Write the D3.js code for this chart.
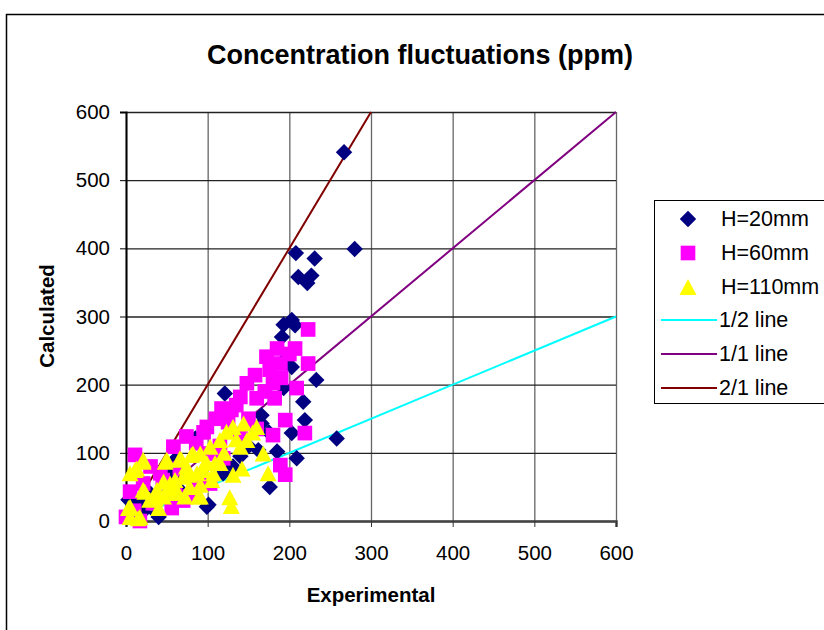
<!DOCTYPE html>
<html><head><meta charset="utf-8">
<script src="https://cdn.jsdelivr.net/npm/d3@7/dist/d3.min.js"></script>
<style>
html,body{margin:0;padding:0;background:#fff;}
svg{display:block;font-family:"Liberation Sans",Arial,sans-serif;}
</style></head>
<body>
<svg id="chart" width="824" height="630"></svg>
<script>
// ---- data ----
const title = "Concentration fluctuations (ppm)";
const xTitle = "Experimental";
const yTitle = "Calculated";
const xTicks = [0,100,200,300,400,500,600];
const yTicks = [0,100,200,300,400,500,600];
const seriesNames = ["H=20mm","H=60mm","H=110mm"];
const lineNames = ["1/2 line","1/1 line","2/1 line"];
const lineSlopes = [0.5,1,2];

const h20 = [[267,541],[280,399],[208,393],[231,385],[211,358],[227,360],[222,349],[193,288],[203,295],[207,287],[191,270],[203,226],[193,195],[233,207],[217,175],[219,148],[203,129],[209,92],[176,50],[258,121],[121,187],[166,155],[185,102],[99,21],[38,11],[21,14],[131,80],[119,70],[54,70],[101,24],[40,6],[17,28],[3,31],[85,121],[64,48],[166,143],[162,104],[197,240],[175,130],[150,110],[60,90],[30,40],[10,20],[80,60],[140,95]];
const h60 = [[223,281],[185,253],[207,253],[172,241],[189,231],[223,231],[176,222],[158,214],[148,202],[180,202],[209,195],[140,182],[160,180],[182,180],[117,165],[129,163],[195,148],[219,129],[180,126],[99,138],[74,124],[58,109],[189,82],[195,68],[11,97],[5,43],[86,114],[103,99],[119,92],[42,70],[66,77],[103,55],[56,19],[78,36],[0,6],[17,0],[33,26],[21,55],[150,150],[135,170],[110,150],[95,130],[125,145],[170,190],[190,210],[200,245],[45,60],[30,80],[60,40],[90,60],[10,15],[70,30],[115,110],[140,125],[160,135]];
const h110 = [[160,138],[144,143],[131,138],[123,131],[115,119],[103,109],[91,99],[82,99],[66,92],[50,90],[21,90],[13,77],[5,70],[140,109],[148,119],[168,99],[174,70],[142,77],[131,68],[127,35],[129,22],[99,85],[87,70],[70,65],[54,55],[38,46],[21,46],[5,21],[5,6],[17,6],[29,31],[46,36],[62,41],[78,50],[91,36],[107,70],[115,85],[74,80],[155,130],[135,120],[120,100],[60,60],[95,75],[21,87],[48,87],[68,90],[80,97],[97,85],[109,85],[11,75],[46,58],[60,50],[78,68],[91,53],[105,60],[23,43],[36,33],[52,41],[72,36],[89,36],[3,19],[15,4],[40,19]];

// ---- styles ----
const colors = {h20:"#000080", h60:"#FF00FF", h110:"#FFFF00"};
const lineColors = ["#00FFFF","#800080","#800000"];

const svg = d3.select("#chart");
// outer chart border
svg.append("rect").attr("x",6.5).attr("y",14.5).attr("width",840).attr("height",640)
  .attr("fill","#fff").attr("stroke","#000").attr("stroke-width",1.5);

const x = d3.scaleLinear().domain([0,600]).range([126,616]);
const y = d3.scaleLinear().domain([0,600]).range([521,112]);

// gridlines
svg.append("g").attr("transform","translate(0,521)")
  .call(d3.axisBottom(x).tickValues(xTicks).tickSize(-(521-112)).tickFormat(""))
  .call(g=>g.select(".domain").remove())
  .call(g=>g.selectAll("line").attr("stroke","#666").attr("stroke-width",1.3));
svg.append("g").attr("transform","translate(126,0)")
  .call(d3.axisLeft(y).tickValues(yTicks).tickSize(-(616-126)).tickFormat(""))
  .call(g=>g.select(".domain").remove())
  .call(g=>g.selectAll("line").attr("stroke","#222").attr("stroke-width",1.3));

// axes
const xa = svg.append("g").attr("transform","translate(0,521)")
  .call(d3.axisBottom(x).tickValues(xTicks).tickSize(6).tickPadding(18));
xa.select(".domain").attr("stroke","#444").attr("stroke-width",2.5);
xa.selectAll("line").attr("stroke","#333");
xa.selectAll("text").attr("font-size",20.5).attr("fill","#000").attr("font-family","Liberation Sans, Arial, sans-serif");

const ya = svg.append("g").attr("transform","translate(126,0)")
  .call(d3.axisLeft(y).tickValues(yTicks).tickSize(6).tickPadding(10));
ya.select(".domain").attr("stroke","#000").attr("stroke-width",2);
ya.selectAll("line").attr("stroke","#000");
ya.selectAll("text").attr("font-size",20.5).attr("fill","#000").attr("font-family","Liberation Sans, Arial, sans-serif");

// reference lines (drawn under markers)
const lineGen = d3.line().x(d=>x(d[0])).y(d=>y(d[1]));
lineSlopes.forEach((s,i)=>{
  const xEnd = Math.min(600, 600/s);
  svg.append("path").datum([[0,0],[xEnd,xEnd*s]])
    .attr("d",lineGen).attr("fill","none").attr("stroke",lineColors[i]).attr("stroke-width",2);
});

// markers
const diamond = d3.symbol().type(d3.symbolSquare).size(135);
const square = d3.symbol().type(d3.symbolSquare).size(215);
const triType = {draw(ctx, size){ const w=8.5, h=16; ctx.moveTo(0,-h/2); ctx.lineTo(w,h/2); ctx.lineTo(-w,h/2); ctx.closePath(); }};
const tri = d3.symbol().type(triType).size(1);

svg.append("g").selectAll("path").data(h20).join("path")
  .attr("d",diamond).attr("transform",d=>`translate(${x(d[0])},${y(d[1])}) rotate(45)`)
  .attr("fill",colors.h20);
svg.append("g").selectAll("path").data(h60).join("path")
  .attr("d",square).attr("transform",d=>`translate(${x(d[0])},${y(d[1])})`)
  .attr("fill",colors.h60);
svg.append("g").selectAll("path").data(h110).join("path")
  .attr("d",tri).attr("transform",d=>`translate(${x(d[0])},${y(d[1])})`)
  .attr("fill",colors.h110);

// titles
svg.append("text").attr("x",420).attr("y",64).attr("text-anchor","middle")
  .attr("font-size",27).attr("font-weight","bold").text(title);
svg.append("text").attr("x",371).attr("y",602).attr("text-anchor","middle")
  .attr("font-size",20.5).attr("font-weight","bold").text(xTitle);
svg.append("text").attr("transform","translate(54,316) rotate(-90)").attr("text-anchor","middle")
  .attr("font-size",20.5).attr("font-weight","bold").text(yTitle);

// legend
const lg = svg.append("g");
lg.append("rect").attr("x",654.5).attr("y",200.5).attr("width",172).attr("height",203)
  .attr("fill","#fff").attr("stroke","#000").attr("stroke-width",1);
const legY = [219,253,287,320,354,388];
const legMarks = [
  {sym:diamond, rot:45, color:colors.h20},
  {sym:square, rot:0, color:colors.h60},
  {sym:tri, rot:0, color:colors.h110}
];
legMarks.forEach((m,i)=>{
  lg.append("path").attr("d",m.sym).attr("fill",m.color)
    .attr("transform",`translate(688,${legY[i]}) rotate(${m.rot})`);
  lg.append("text").attr("x",721).attr("y",legY[i]+7).attr("font-size",21.5).text(seriesNames[i]);
});
lineNames.forEach((n,i)=>{
  const yy = legY[i+3];
  lg.append("line").attr("x1",661).attr("x2",717).attr("y1",yy).attr("y2",yy)
    .attr("stroke",lineColors[i]).attr("stroke-width",2);
  lg.append("text").attr("x",719).attr("y",yy+7).attr("font-size",21.5).text(n);
});
</script>
</body></html>
